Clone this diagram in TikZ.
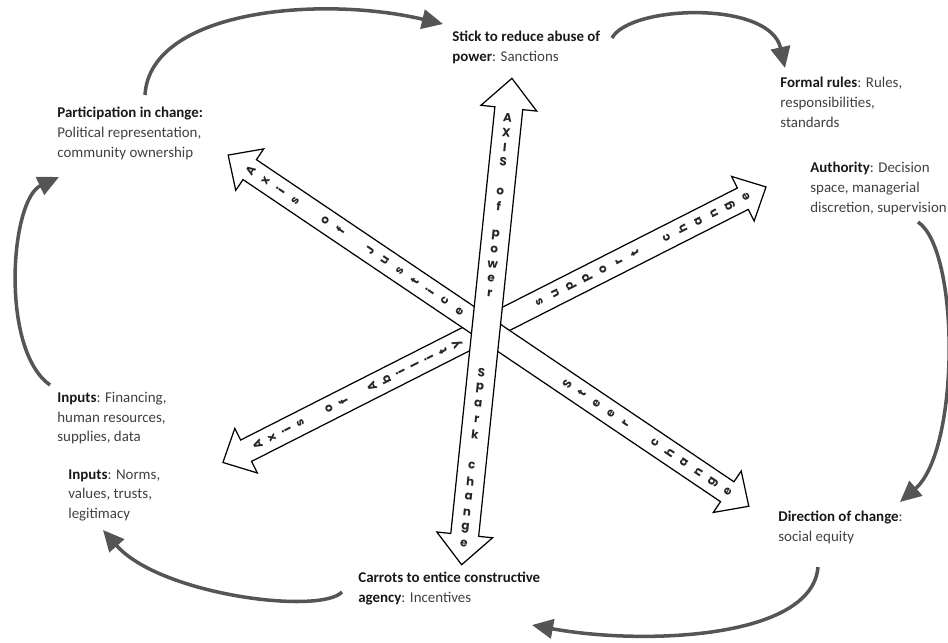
\documentclass[tikz,border=0pt]{standalone}
\usepackage{fontspec}
\setmainfont{Carlito}
\newfontfamily\axisfont{Poppins}
\usetikzlibrary{arrows.meta,calc}

\definecolor{labelgray}{RGB}{64,64,64}
\definecolor{cyclegray}{RGB}{85,85,85}
\newcommand{\factorhead}[1]{\textcolor{black!90}{\bfseries #1}}

\tikzset{
  factor/.style={anchor=north west, inner sep=0pt, align=left, text=labelgray,
    font=\fontsize{8.5}{11.2}\selectfont},
  cyclearrow/.style={draw=cyclegray, line width=2pt, -{Triangle[length=12pt,width=11pt]}},
  axisbody/.style={draw=black, fill=white, line width=0.7pt},
  axisletter/.style={font=\axisfont\bfseries\fontsize{6.8}{6.8}\selectfont, inner sep=0pt,
    transform shape, text=black!85},
}

\begin{document}
\begin{tikzpicture}[x=0.02cm, y=-0.02cm]
\useasboundingbox (0,0) rectangle (948,643);

% 外圈:八个说明
\node[factor] (stick) at (452,31) {\factorhead{Stick to reduce abuse of}\\\factorhead{power}: Sanctions};
\node[factor] (formal) at (780,77) {\factorhead{Formal rules}: Rules,\\responsibilities,\\standards};
\node[factor] (authority) at (810,162) {\factorhead{Authority}: Decision\\space, managerial\\discretion, supervision};
\node[factor] (direction) at (778,511) {\factorhead{Direction of change}:\\social equity};
\node[factor] (carrots) at (358,572) {\factorhead{Carrots to entice constructive}\\\factorhead{agency}: Incentives};
\node[factor] (norms) at (68,469) {\factorhead{Inputs}: Norms,\\values, trusts,\\legitimacy};
\node[factor] (financing) at (57,392) {\factorhead{Inputs}: Financing,\\human resources,\\supplies, data};
\node[factor] (part) at (57,107) {\factorhead{Participation in change:}\\Political representation,\\community ownership};

% 外圈:循环箭头
\draw[cyclearrow] ($(part.north west)+(88,-12)$) .. controls +(5,-85) and +(-123,-29) .. ($(stick.north west)+(-9,-7)$);
\draw[cyclearrow] ($(stick.north west)+(160,7)$) .. controls +(18,-33) and +(-15,-68) .. ($(formal.north west)+(5,-9)$);
\draw[cyclearrow] ($(authority.north west)+(108,60)$) .. controls +(42,28) and +(60,-52) .. ($(direction.north west)+(122,-9)$);
\draw[cyclearrow] ($(direction.north west)+(40,56)$) .. controls +(-6,73) and +(108,20) .. ($(carrots.north west)+(174,53)$);
\draw[cyclearrow] ($(carrots.north west)+(-16,20)$) .. controls +(-22,23) and +(57,65) .. ($(norms.north west)+(35,61)$);
\draw[cyclearrow] ($(financing.north west)+(-7,-7)$) .. controls +(-50,-35) and +(-49,23) .. ($(part.north west)+(2,70)$);

% 中间:支持变革 / 能力轴
\begin{scope}[shift={(486,329)}, rotate=26.9]
    \draw[axisbody] (314,0) -- (288,25) -- (288,12) -- (-269,12) -- (-269,25) -- (-295,0)
        -- (-269,-25) -- (-269,-12) -- (288,-12) -- (288,-25) -- cycle;
    \foreach \ch [count=\i from 0] in {s,u,p,p,o,r,t,{},c,h,a,n,g,e}
        \node[axisletter, rotate=90] (support-\i) at (60+17.8*\i,0) {\ch};
    \foreach \ch [count=\i from 0] in {A,x,i,s,{},o,f,{},A,b,i,l,i,t,y}
        \node[axisletter, rotate=90] (ability-\i) at (-256+16*\i,0) {\ch};
\end{scope}

% 中间:正义轴 / 引导变革
\begin{scope}[shift={(486,329)}, rotate=146]
    \draw[axisbody] (311,0) -- (285,25) -- (285,12) -- (-291,12) -- (-291,25) -- (-317,0)
        -- (-291,-25) -- (-291,-12) -- (285,-12) -- (285,-25) -- cycle;
    \foreach \ch [count=\i from 0] in {A,x,i,s,{},o,f,{},J,u,s,t,i,c,e}
        \node[axisletter, rotate=-90] (justice-\i) at (284-18*\i,0) {\ch};
    \foreach \ch [count=\i from 0] in {S,t,e,e,r,{},c,h,a,n,g,e}
        \node[axisletter, rotate=-90] (steer-\i) at (-98-17.6*\i,0) {\ch};
\end{scope}

% 中间:权力轴
\begin{scope}[shift={(486,329)}, rotate=84.1]
    \draw[axisbody] (252,0) -- (222,28) -- (222,14) -- (-207,14) -- (-207,28) -- (-237,0)
        -- (-207,-28) -- (-207,-14) -- (222,-14) -- (222,-28) -- cycle;
    \foreach \ch [count=\i from 0] in {A,X,I,S,{},o,f,{},p,o,w,e,r}
        \node[axisletter, rotate=-90] (power-\i) at (212-14.7*\i,0) {\ch};
    \foreach \ch [count=\i from 0] in {S,p,a,r,k,{},c,h,a,n,g,e}
        \node[axisletter, rotate=-90] (spark-\i) at (-44-15.6*\i,0) {\ch};
\end{scope}

\end{tikzpicture}
\end{document}
